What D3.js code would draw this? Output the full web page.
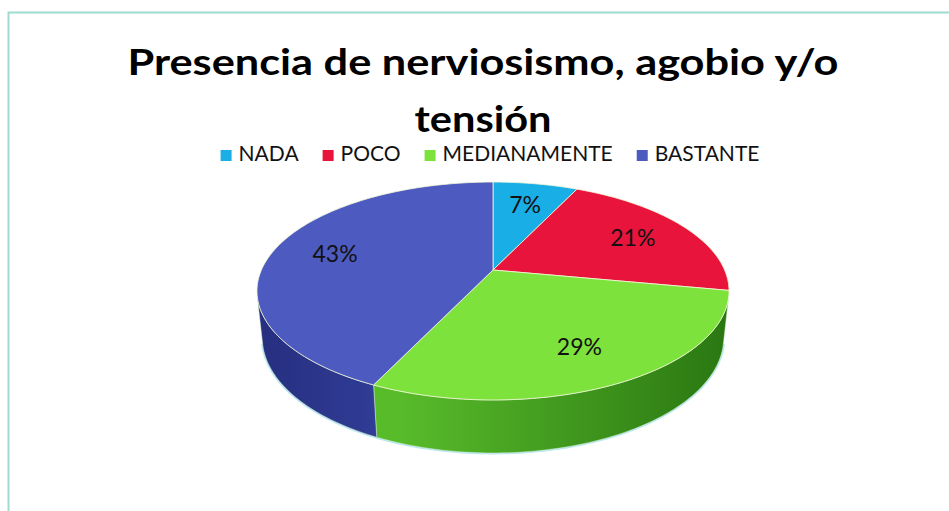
<!DOCTYPE html>
<html>
<head>
<meta charset="utf-8">
<script src="https://cdn.jsdelivr.net/npm/d3@7"></script>
<style>
  body { margin: 0; background: #fff; }
  svg { display: block; }
</style>
</head>
<body>
<div id="chart"></div>
<script>
// data
const titleLines = ["Presencia de nerviosismo, agobio y/o", "tensión"];
const categories = ["NADA", "POCO", "MEDIANAMENTE", "BASTANTE"];
const values = [7, 21, 29, 43];
const labels = ["7%", "21%", "29%", "43%"];
const topColors = ["#1aaee6", "#e8143c", "#7ee23c", "#4d5bc0"];
const sideLight = ["#1590c0", "#b80f2e", "#58bb2a", "#34429e"];
const sideDark = ["#0f6f96", "#8c0b22", "#2b7812", "#262f80"];

const width = 949, height = 511;

const svg = d3.select("#chart")
              .append("svg")
              .attr("width", width)
              .attr("height", height);

// chart frame (only top and left edges show in the window)
svg.append("rect")
   .attr("x", 8.5).attr("y", 12.5)
   .attr("width", 1200).attr("height", 800)
   .attr("fill", "#fff")
   .attr("stroke", "#9fdccf")
   .attr("stroke-width", 2);

// title
const title = svg.append("g")
                 .attr("font-family", "Lato, 'Open Sans', sans-serif")
                 .attr("font-weight", "bold")
                 .attr("font-size", 37)
                 .attr("fill", "#000")
                 .attr("text-anchor", "middle");
const titleY = [75, 131.5];
const titleW = [711, 137];
titleLines.forEach((t, i) => {
    const el = title.append("text")
                    .attr("x", 483)
                    .attr("y", titleY[i])
                    .text(t);
    const len = el.node().getComputedTextLength();
    if (Math.abs(len - titleW[i]) > 4) {
        el.attr("textLength", titleW[i]).attr("lengthAdjust", "spacingAndGlyphs");
    }
});

// legend
const legend = svg.append("g")
                  .attr("font-family", "Lato, 'Open Sans', sans-serif")
                  .attr("font-size", 21)
                  .attr("fill", "#111");
let lx = 0;
const items = categories.map((c, i) => {
    const g = legend.append("g");
    g.append("rect")
     .attr("x", 0).attr("y", -11)
     .attr("width", 11).attr("height", 11)
     .attr("fill", topColors[i]);
    const t = g.append("text").attr("x", 18).attr("y", 0).text(c);
    const w = 18 + t.node().getComputedTextLength();
    g.attr("transform", `translate(${lx},0)`);
    lx += w + 24;
    return g;
});
const legendW = lx - 24;
legend.attr("transform", `translate(${490 - legendW / 2},161)`);

// 3D pie projection
const cx = 493, cy = 270;
const S = 231.6;              // screen scale of radius
const sinP = 0.453, cosP = 0.891;
const RD = 0.2163;            // radius / camera distance
const depth = 0.227;          // pie thickness / radius

function project(a, r, h) {
    const x = r * Math.sin(a);
    const z = -r * Math.cos(a);
    const yDown = -h * cosP + z * sinP;
    const toward = h * sinP + z * cosP;
    const k = 1 / (1 - RD * toward);
    return [cx + S * x * k, cy + S * yDown * k];
}

function arcPts(a0, a1, r, h) {
    const n = Math.max(2, Math.ceil(Math.abs(a1 - a0) / 0.02));
    return d3.range(n + 1).map(i => project(a0 + (a1 - a0) * i / n, r, h));
}

const line = d3.line();
const arcs = d3.pie().sort(null).value(d => d)(values);

// visible part of the outer wall
const cosLim = -RD / cosP;
const visL = Math.acos(cosLim), visR = 2 * Math.PI - Math.acos(cosLim);

const defs = svg.append("defs");
arcs.forEach((d, i) => {
    const gr = defs.append("linearGradient")
                   .attr("id", "side" + i)
                   .attr("gradientUnits", "userSpaceOnUse")
                   .attr("x1", cx - S).attr("x2", cx + S)
                   .attr("y1", 0).attr("y2", 0);
    if (i === 3) {
        gr.append("stop").attr("offset", 0).attr("stop-color", sideDark[i]);
        gr.append("stop").attr("offset", 0.35).attr("stop-color", sideLight[i]);
    } else {
        gr.append("stop").attr("offset", 0.3).attr("stop-color", sideLight[i]);
        gr.append("stop").attr("offset", 1).attr("stop-color", sideDark[i]);
    }
});

const walls = svg.append("g");
const tops = svg.append("g");

// faint glow under the bottom rim
walls.append("path")
     .attr("d", line(arcPts(visL, visR, 1, -depth)))
     .attr("fill", "none")
     .attr("stroke", "#b8e8f2")
     .attr("stroke-width", 3);

arcs.forEach((d, i) => {
    const a0 = Math.max(d.startAngle, visL);
    const a1 = Math.min(d.endAngle, visR);
    if (a1 > a0) {
        const pts = arcPts(a0, a1, 1, 0).concat(arcPts(a1, a0, 1, -depth));
        walls.append("path")
             .attr("d", line(pts) + "Z")
             .attr("fill", `url(#side${i})`)
             .attr("stroke", "#d8f0c8")
             .attr("stroke-opacity", 0.6)
             .attr("stroke-width", 0.8);
    }
    const tp = [project(0, 0, 0)].concat(arcPts(d.startAngle, d.endAngle, 1, 0));
    tops.append("path")
        .attr("d", line(tp) + "Z")
        .attr("fill", topColors[i])
        .attr("stroke", "#f4f8d8")
        .attr("stroke-opacity", 0.8)
        .attr("stroke-width", 1);
});

// data labels
svg.append("g")
   .attr("font-family", "Lato, 'Open Sans', sans-serif")
   .attr("font-size", 23)
   .attr("fill", "#111")
   .attr("text-anchor", "middle")
   .selectAll("text")
   .data(arcs)
   .enter()
   .append("text")
   .attr("x", d => project((d.startAngle + d.endAngle) / 2, 0.72, 0)[0])
   .attr("y", d => project((d.startAngle + d.endAngle) / 2, 0.72, 0)[1] + 8)
   .text((d, i) => labels[i]);
</script>
</body>
</html>
